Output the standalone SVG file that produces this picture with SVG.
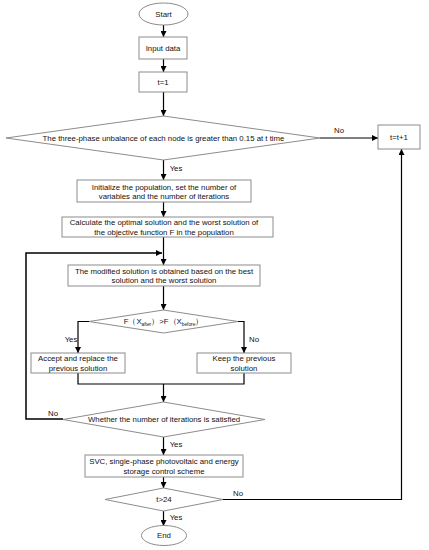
<svg xmlns="http://www.w3.org/2000/svg" width="429" height="550" viewBox="0 0 429 550">
<style>
.box{fill:#fff;stroke:#8c8c8c;stroke-width:1}
.ln{fill:none;stroke:#000;stroke-width:1.2}
text{font-family:"Liberation Sans",Arial,sans-serif;font-size:7.8px;fill:#111;text-anchor:middle}
.sm{font-size:4.8px}
</style>
<defs>
<marker id="ar" viewBox="0 0 10 10" refX="10" refY="5" markerWidth="6" markerHeight="6" markerUnits="userSpaceOnUse" orient="auto"><path d="M0,0L10,5L0,10z" fill="#000"/></marker>
</defs>
<rect width="429" height="550" fill="#fff"/>
<g id="connectors">
<line class="ln" x1="163.5" y1="25" x2="163.5" y2="37" marker-end="url(#ar)"/>
<line class="ln" x1="163.5" y1="59" x2="163.5" y2="72" marker-end="url(#ar)"/>
<line class="ln" x1="163.5" y1="92" x2="163.5" y2="116" marker-end="url(#ar)"/>
<line class="ln" x1="320" y1="138" x2="378" y2="138" marker-end="url(#ar)"/>
<line class="ln" x1="163.5" y1="160" x2="163.5" y2="180" marker-end="url(#ar)"/>
<line class="ln" x1="163.5" y1="202" x2="163.5" y2="217" marker-end="url(#ar)"/>
<line class="ln" x1="163.5" y1="237" x2="163.5" y2="265" marker-end="url(#ar)"/>
<line class="ln" x1="163.5" y1="286" x2="163.5" y2="310" marker-end="url(#ar)"/>
<polyline class="ln" points="89,321.5 78,321.5 78,353" marker-end="url(#ar)"/>
<polyline class="ln" points="238,321.5 244,321.5 244,353" marker-end="url(#ar)"/>
<polyline class="ln" points="78,373 78,384 244,384 244,373"/>
<line class="ln" x1="163.5" y1="384" x2="163.5" y2="402" marker-end="url(#ar)"/>
<polyline class="ln" style="stroke-width:1.5" points="63,419 26,419 26,253 162,253" marker-end="url(#ar)"/>
<line class="ln" x1="163.5" y1="437" x2="163.5" y2="455" marker-end="url(#ar)"/>
<line class="ln" x1="163.5" y1="477" x2="163.5" y2="488" marker-end="url(#ar)"/>
<polyline class="ln" points="223,499.5 401.5,499.5 401.5,149" marker-end="url(#ar)"/>
<line class="ln" x1="163.5" y1="511" x2="163.5" y2="526" marker-end="url(#ar)"/>
<text x="339" y="133">No</text>
<text x="176" y="171">Yes</text>
<text x="71" y="342">Yes</text>
<text x="254" y="342">No</text>
<text x="53" y="416">No</text>
<text x="176" y="447">Yes</text>
<text x="238" y="496">No</text>
<text x="176" y="520">Yes</text>
</g>
<g id="start"><ellipse class="box" cx="163.5" cy="14" rx="24.5" ry="11"/><text x="163.5" y="16.5">Start</text></g>
<g id="input"><rect class="box" x="139" y="37" width="48" height="22"/><text x="163" y="50.5">Input data</text></g>
<g id="t1"><rect class="box" x="139" y="72" width="48" height="20"/><text x="163" y="84.5">t=1</text></g>
<g id="cond1"><polygon class="box" points="163.5,116 320,138 163.5,160 6,138"/><text x="163.5" y="140.5">The three-phase unbalance of each node is greater than 0.15 at t time</text></g>
<g id="tinc"><rect class="box" x="378" y="125" width="42" height="24"/><text x="399" y="139.5">t=t+1</text></g>
<g id="init"><rect class="box" x="77" y="180" width="174" height="22"/><text x="164" y="189.5">Initialize the population, set the number of</text><text x="164" y="199">variables and the number of iterations</text></g>
<g id="calc"><rect class="box" x="62" y="217" width="211" height="20"/><text x="164" y="225">Calculate the optimal solution and the worst solution of</text><text x="164" y="234.5">the objective function F in the population</text></g>
<g id="modify"><rect class="box" x="68" y="265" width="192" height="21"/><text x="164" y="273.5">The modified solution is obtained based on the best</text><text x="164" y="283">solution and the worst solution</text></g>
<g id="compare"><polygon class="box" points="163.5,310 238,321.5 163.5,333 89,321.5"/><text x="163.5" y="324">F（X<tspan class="sm" dy="1.5">after</tspan><tspan dy="-1.5">）&gt;F（X</tspan><tspan class="sm" dy="1.5">before</tspan><tspan dy="-1.5">）</tspan></text></g>
<g id="accept"><rect class="box" x="31" y="353" width="94" height="20"/><text x="78" y="361">Accept and replace the</text><text x="78" y="370.5">previous solution</text></g>
<g id="keep"><rect class="box" x="197" y="353" width="94" height="20"/><text x="244" y="361">Keep the previous</text><text x="244" y="370.5">solution</text></g>
<g id="iter"><polygon class="box" points="163.5,402 265,419.5 163.5,437 63,419.5"/><text x="164" y="422">Whether the number of iterations is satisfied</text></g>
<g id="svc"><rect class="box" x="85" y="455" width="158" height="22"/><text x="164" y="464">SVC, single-phase photovoltaic and energy</text><text x="164" y="474">storage control scheme</text></g>
<g id="t24"><polygon class="box" points="163.5,488 223,499.5 163.5,511 105,499.5"/><text x="164" y="502">t&gt;24</text></g>
<g id="end"><ellipse class="box" cx="164" cy="535.5" rx="22.5" ry="10"/><text x="164" y="538">End</text></g>
</svg>
